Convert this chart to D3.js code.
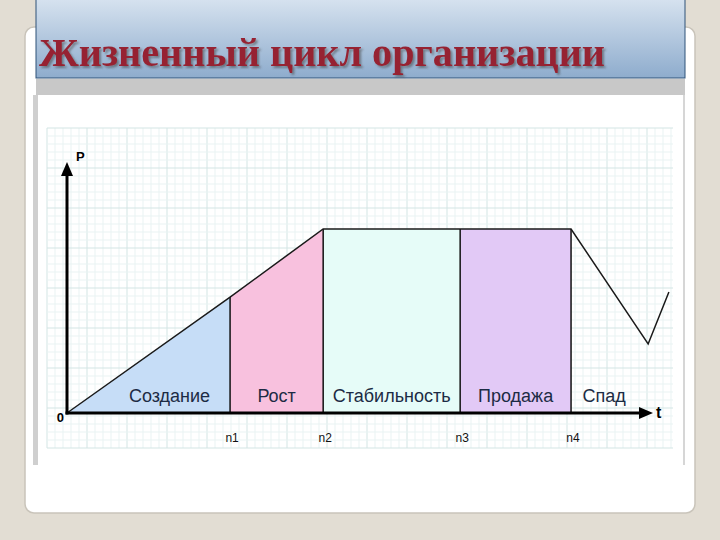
<!DOCTYPE html>
<html lang="ru">
<head>
    <meta charset="UTF-8">
    <title>Жизненный цикл организации</title>
    <script src="https://d3js.org/d3.v7.min.js"></script>
    <style>
        html, body { margin: 0; padding: 0; background: #e2ddd3; }
        svg { display: block; }
    </style>
</head>
<body>
    <svg id="slide" width="720" height="540"></svg>

    <script>
        // Chart data
        const titleText = 'Жизненный цикл организации';
        const stages = ['Создание', 'Рост', 'Стабильность', 'Продажа', 'Спад'];
        const boundaryT = [0, 2.75, 4.32, 6.63, 8.5];
        const boundaryLabels = ['', 'n1', 'n2', 'n3', 'n4'];
        const curveT = [0, 2.75, 4.32, 6.63, 8.5, 9.8, 10.15];
        const curveP = [0, 4.62, 7.33, 7.33, 7.33, 2.75, 4.82];
        const stageColors = ['#c6ddf7', '#f8c1de', '#e6fcf8', '#e2c9f6', 'none'];

        const svg = d3.select('#slide');

        // Slide card and title
        svg.append('rect')
            .attr('x', 25).attr('y', 27).attr('width', 670).attr('height', 486)
            .attr('rx', 9)
            .attr('fill', '#fff')
            .attr('stroke', '#c9c4ba').attr('stroke-width', 1.5);

        const defs = svg.append('defs');
        const grad = defs.append('linearGradient')
            .attr('id', 'titleGrad').attr('x1', 0).attr('y1', 0).attr('x2', 0).attr('y2', 1);
        grad.append('stop').attr('offset', '0%').attr('stop-color', '#d6e2ef');
        grad.append('stop').attr('offset', '100%').attr('stop-color', '#8eaccd');

        const shadow = defs.append('filter').attr('id', 'titleShadow')
            .attr('x', '-5%').attr('y', '-20%').attr('width', '110%').attr('height', '140%');
        shadow.append('feDropShadow')
            .attr('dx', 2).attr('dy', 2).attr('stdDeviation', 1)
            .attr('flood-color', '#444').attr('flood-opacity', 0.55);

        svg.append('rect')
            .attr('x', 36).attr('y', -1).attr('width', 649).attr('height', 79)
            .attr('fill', 'url(#titleGrad)')
            .attr('stroke', '#2f5378').attr('stroke-width', 1);

        svg.append('rect')
            .attr('x', 36).attr('y', 79).attr('width', 649).attr('height', 16)
            .attr('fill', '#c8c8c8');

        svg.append('rect')
            .attr('x', 33).attr('y', 95).attr('width', 5).attr('height', 370)
            .attr('fill', '#cfcfcf');
        svg.append('line')
            .attr('x1', 684).attr('x2', 684).attr('y1', 95).attr('y2', 465)
            .attr('stroke', '#d6d6d6').attr('stroke-width', 2);

        svg.append('text')
            .attr('x', 39).attr('y', 66)
            .attr('font-family', '"Liberation Serif", "Times New Roman", serif')
            .attr('font-weight', 'bold')
            .attr('font-style', 'normal')
            .attr('font-size', 40)
            .attr('textLength', 566)
            .attr('lengthAdjust', 'spacingAndGlyphs')
            .attr('fill', '#962433')
            .attr('filter', 'url(#titleShadow)')
            .text(titleText);

        // Graph paper
        const paper = {x0: 47, x1: 673, y0: 128, y1: 448};
        const gGrid = svg.append('g');
        const step = 8;
        d3.range(paper.x0, paper.x1 + 0.1, step).forEach((x, i) => {
            gGrid.append('line')
                .attr('x1', x).attr('x2', x).attr('y1', paper.y0).attr('y2', paper.y1)
                .attr('stroke', i % 5 === 0 ? '#d3e5e4' : '#e9f3f3');
        });
        d3.range(paper.y0, paper.y1 + 0.1, step).forEach((y, i) => {
            gGrid.append('line')
                .attr('x1', paper.x0).attr('x2', paper.x1).attr('y1', y).attr('y2', y)
                .attr('stroke', i % 5 === 0 ? '#d3e5e4' : '#e9f3f3');
        });

        // Scales
        const x = d3.scaleLinear().domain([0, 10]).range([67, 660]);
        const y = d3.scaleLinear().domain([0, 10]).range([413, 162]);

        const curve = curveT.map((t, i) => ({t: t, p: curveP[i]}));

        const area = d3.area()
            .x(d => x(d.t))
            .y0(y(0))
            .y1(d => y(d.p));

        const plot = svg.append('g');

        // stage fills
        stages.forEach((name, i) => {
            if (stageColors[i] === 'none') return;
            const t0 = boundaryT[i];
            const t1 = boundaryT[i + 1];
            const pts = curve.filter(d => d.t >= t0 && d.t <= t1);
            plot.append('path')
                .datum(pts)
                .attr('d', area)
                .attr('fill', stageColors[i]);
        });

        // stage boundaries
        boundaryT.slice(1).forEach(t => {
            const p = curve.find(d => d.t === t).p;
            plot.append('line')
                .attr('x1', x(t)).attr('x2', x(t))
                .attr('y1', y(0)).attr('y2', y(p))
                .attr('stroke', '#111').attr('stroke-width', 1.5);
        });

        // the curve
        plot.append('path')
            .datum(curve)
            .attr('d', d3.line().x(d => x(d.t)).y(d => y(d.p)))
            .attr('fill', 'none')
            .attr('stroke', '#1a1a1a')
            .attr('stroke-width', 1.5);

        // stage names
        stages.forEach((name, i) => {
            const t0 = boundaryT[i];
            const t1 = i + 1 < boundaryT.length ? boundaryT[i + 1] : t0 + 0.9;
            let cx = (x(t0) + x(t1)) / 2;
            if (i === 0) cx += 21;
            if (i === stages.length - 1) cx = x(t0) + 33;
            plot.append('text')
                .attr('x', cx).attr('y', 402)
                .attr('text-anchor', 'middle')
                .attr('font-family', 'Arial, "Liberation Sans", sans-serif')
                .attr('font-size', 18)
                .attr('fill', '#1c2b44')
                .text(name);
        });

        // Axes with arrowheads
        const axisG = svg.append('g');
        axisG.append('line')
            .attr('x1', x(0)).attr('x2', x(0))
            .attr('y1', y(0) + 1.5).attr('y2', y(10) + 12)
            .attr('stroke', '#000').attr('stroke-width', 3);
        axisG.append('path')
            .attr('d', `M${x(0)},${y(10)} L${x(0) - 6},${y(10) + 14} L${x(0) + 6},${y(10) + 14} Z`)
            .attr('fill', '#000');
        axisG.append('line')
            .attr('x1', x(0) - 1.5).attr('x2', x(10) - 12)
            .attr('y1', y(0)).attr('y2', y(0))
            .attr('stroke', '#000').attr('stroke-width', 3);
        axisG.append('path')
            .attr('d', `M${x(10) - 7},${y(0)} L${x(10) - 21},${y(0) - 6} L${x(10) - 21},${y(0) + 6} Z`)
            .attr('fill', '#000');

        axisG.append('text')
            .attr('x', x(0) + 9).attr('y', y(10) - 1)
            .attr('font-family', 'Arial, sans-serif').attr('font-weight', 'bold')
            .attr('font-size', 13).text('P');
        axisG.append('text')
            .attr('x', x(10) - 4).attr('y', y(0) + 5)
            .attr('font-family', 'Arial, sans-serif').attr('font-weight', 'bold')
            .attr('font-size', 16).text('t');
        axisG.append('text')
            .attr('x', x(0) - 3).attr('y', y(0) + 9)
            .attr('text-anchor', 'end')
            .attr('font-family', 'Arial, sans-serif').attr('font-weight', 'bold')
            .attr('font-size', 13).text('0');

        // n1..n4 tick labels
        const ticks = boundaryT.map((t, i) => ({t: t, label: boundaryLabels[i]})).filter(d => d.label);
        axisG.selectAll('text.nlab')
            .data(ticks)
            .join('text')
            .attr('class', 'nlab')
            .attr('x', d => x(d.t) + 2).attr('y', 442)
            .attr('text-anchor', 'middle')
            .attr('font-family', 'Arial, sans-serif')
            .attr('font-size', 12)
            .attr('fill', '#111')
            .text(d => d.label);
    </script>
</body>
</html>
